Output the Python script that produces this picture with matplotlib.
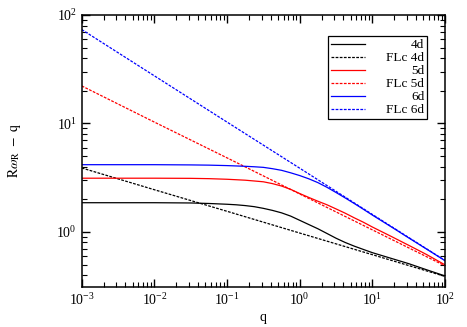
import numpy as np
import matplotlib
matplotlib.use('Agg')
import matplotlib.pyplot as plt

plt.rcParams['font.family'] = ['Liberation Serif', 'DejaVu Serif']
plt.rcParams['mathtext.fontset'] = 'stix'

# values (q on log axis, given as log10 q)
logq_curve = [-3, -2, -1.5, -1.25, -1, -0.875, -0.75, -0.625, -0.5, -0.375, -0.25,
              -0.125, 0, 0.125, 0.25, 0.375, 0.5, 0.625, 0.75, 0.875, 1, 1.25,
              1.5, 1.75, 2]
d4 = [1.86, 1.86, 1.85, 1.83, 1.80, 1.78, 1.75, 1.71, 1.65, 1.58, 1.50,
      1.40, 1.28, 1.17, 1.07, 0.968, 0.875, 0.80, 0.74, 0.69, 0.644, 0.573,
      0.510, 0.447, 0.393]
d5 = [3.13, 3.13, 3.12, 3.10, 3.06, 3.03, 3.00, 2.95, 2.90, 2.79, 2.65,
      2.47, 2.26, 2.08, 1.92, 1.78, 1.63, 1.49, 1.35, 1.23, 1.11, 0.916,
      0.753, 0.617, 0.497]
d6 = [4.17, 4.17, 4.15, 4.13, 4.09, 4.06, 4.03, 3.99, 3.94, 3.83, 3.70,
      3.51, 3.31, 3.09, 2.85, 2.58, 2.31, 2.06, 1.83, 1.62, 1.43, 1.125,
      0.881, 0.692, 0.543]

logq_flc = [-3, -2, -1, 0, 1, 2]
flc4 = [3.89, 2.45, 1.55, 0.977, 0.617, 0.389]
flc5 = [22.2, 10.3, 4.82, 2.24, 1.045, 0.487]
flc6 = [73.5, 27.5, 10.3, 3.87, 1.45, 0.545]

q_curve = 10.0 ** np.array(logq_curve)
q_flc = 10.0 ** np.array(logq_flc)

fig = plt.figure(figsize=(4.67, 3.27), dpi=100)
ax = fig.add_axes([0.175, 0.122, 0.778, 0.832])

dash = (0, (2.2, 1.1))
lw = 0.9
ax.plot(q_curve, d4, color='black', lw=lw, label='4d')
ax.plot(q_flc, flc4, color='black', lw=lw, ls=dash, label='FLc 4d')
ax.plot(q_curve, d5, color='#ff0000', lw=lw, label='5d')
ax.plot(q_flc, flc5, color='#ff0000', lw=lw, ls=dash, label='FLc 5d')
ax.plot(q_curve, d6, color='#0000ff', lw=lw, label='6d')
ax.plot(q_flc, flc6, color='#0000ff', lw=lw, ls=dash, label='FLc 6d')

ax.set_xscale('log')
ax.set_yscale('log')
ax.set_xlim(1e-3, 100)
ax.set_ylim(0.31, 100)

ax.tick_params(which='both', direction='in', top=True, right=True, labelsize=10)
ax.tick_params(which='major', length=6, width=1)
ax.tick_params(which='minor', length=3.5, width=0.8)
for s in ax.spines.values():
    s.set_linewidth(1.1)

ax.set_xlabel('q', fontsize=10, labelpad=2)
ax.set_ylabel(r'$\mathrm{R}\omega_\mathrm{R}\ -\ \mathrm{q}$', fontsize=10, labelpad=24)

leg = ax.legend(loc='upper right', bbox_to_anchor=(0.950, 0.922), borderaxespad=0,
                fancybox=False, edgecolor='black', framealpha=1, fontsize=9.5,
                handlelength=2.6, handletextpad=1.6, labelspacing=0.06,
                borderpad=0.2)
leg.get_frame().set_linewidth(0.9)
# right-align the legend labels
fig.canvas.draw()
r = fig.canvas.get_renderer()
widths = [t.get_window_extent(r).width for t in leg.get_texts()]
for t, w in zip(leg.get_texts(), widths):
    t.set_position((max(widths) - w, 0))

fig.savefig('out.png', dpi=100)
